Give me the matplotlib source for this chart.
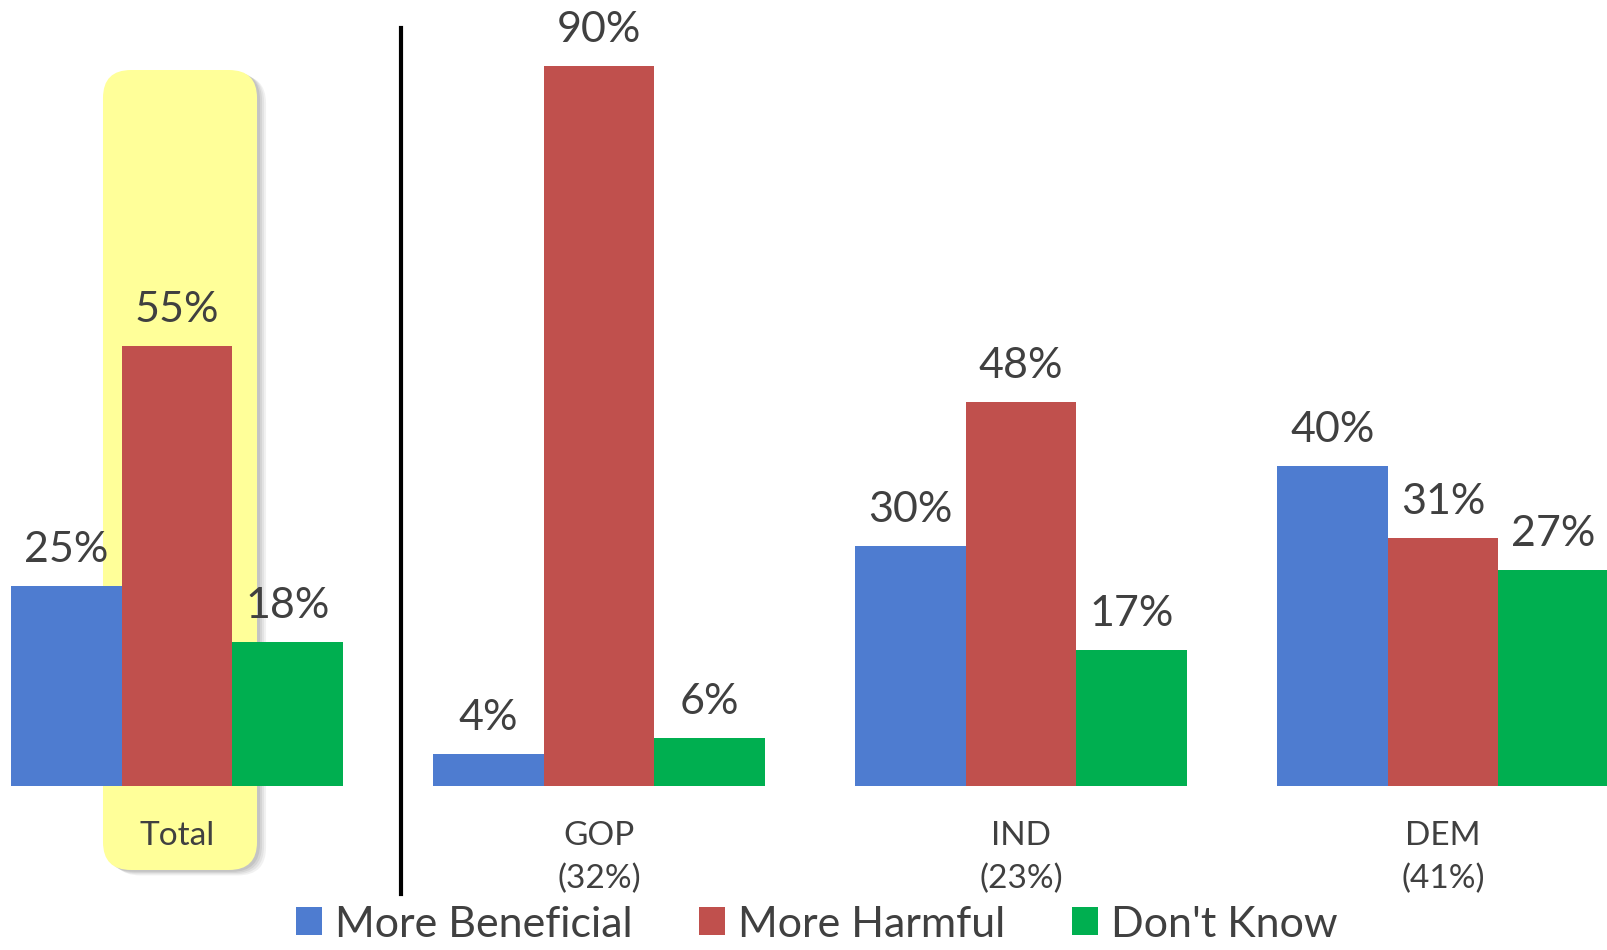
import matplotlib
matplotlib.use('Agg')
import matplotlib.pyplot as plt
from matplotlib.patches import FancyBboxPatch, Patch
from matplotlib.lines import Line2D
from matplotlib.transforms import IdentityTransform
import numpy as np

# --- Data ---
groups = ["Total", "GOP\n(32%)", "IND\n(23%)", "DEM\n(41%)"]
series = ["More Beneficial", "More Harmful", "Don't Know"]
beneficial = [25, 4, 30, 40]
harmful = [55, 90, 48, 31]
dont_know = [18, 6, 17, 27]
colors = ["#4E7CD0", "#C0504D", "#00AF50"]

plt.rcParams['font.family'] = ['Lato', 'DejaVu Sans']
TEXT = "#404040"

fig = plt.figure(figsize=(16.08, 9.5), dpi=100)
ax = fig.add_axes([0, 164 / 950, 1, 786 / 950])
ax.set_facecolor("none")

x = np.arange(len(groups))
bw = 0.2617
for i, (vals, col) in enumerate(zip([beneficial, harmful, dont_know], colors)):
    pos = x + (i - 1) * bw
    ax.bar(pos, vals, width=bw, color=col, zorder=3)
    for px, v in zip(pos, vals):
        ax.annotate(f"{v}%", (px, v), xytext=(0, 12), textcoords="offset points",
                    ha="center", va="bottom", fontsize=31, color=TEXT, zorder=4)

ax.set_xlim(-0.419, 3.391)
ax.set_ylim(0, 98.25)
ax.set_xticks(x)
ax.set_xticklabels(groups, fontsize=24, color=TEXT, linespacing=1.55)
ax.tick_params(axis="x", length=0, pad=25)
ax.set_yticks([])
for s in ax.spines.values():
    s.set_visible(False)

# --- Yellow highlight behind "Total" ---
fig.canvas.draw()
(x0, y0) = ax.transData.transform((-0.175, -10.5))
(x1, y1) = ax.transData.transform((0.19, 89.5))
for k, a in enumerate([0.10, 0.12, 0.15, 0.18]):
    off = 9 - 2 * k
    sh = FancyBboxPatch((x0 + off, y0 - off * 0.6), x1 - x0, y1 - y0,
                        boxstyle="round,pad=0,rounding_size=28",
                        transform=IdentityTransform(), facecolor="#7f7f7f",
                        edgecolor="none", alpha=a, zorder=-3)
    fig.patches.append(sh)
hl = FancyBboxPatch((x0, y0), x1 - x0, y1 - y0,
                    boxstyle="round,pad=0,rounding_size=28",
                    transform=IdentityTransform(), facecolor="#FFFF99",
                    edgecolor="none", zorder=-2)
fig.patches.append(hl)

# --- Divider line ---
ax.add_line(Line2D([0.53, 0.53], [-13.5, 94.75], color="black", lw=3,
                   clip_on=False, zorder=5))

# --- Legend ---
handles = [Patch(facecolor=c, edgecolor="none") for c in colors]
fig.legend(handles, series, loc="lower center", bbox_to_anchor=(0.508, -0.034),
           ncol=3, frameon=False, fontsize=31, labelcolor=TEXT,
           handlelength=0.6, handleheight=0.62, handletextpad=0.3,
           columnspacing=1.55)

fig.savefig("out.png", dpi=100)
